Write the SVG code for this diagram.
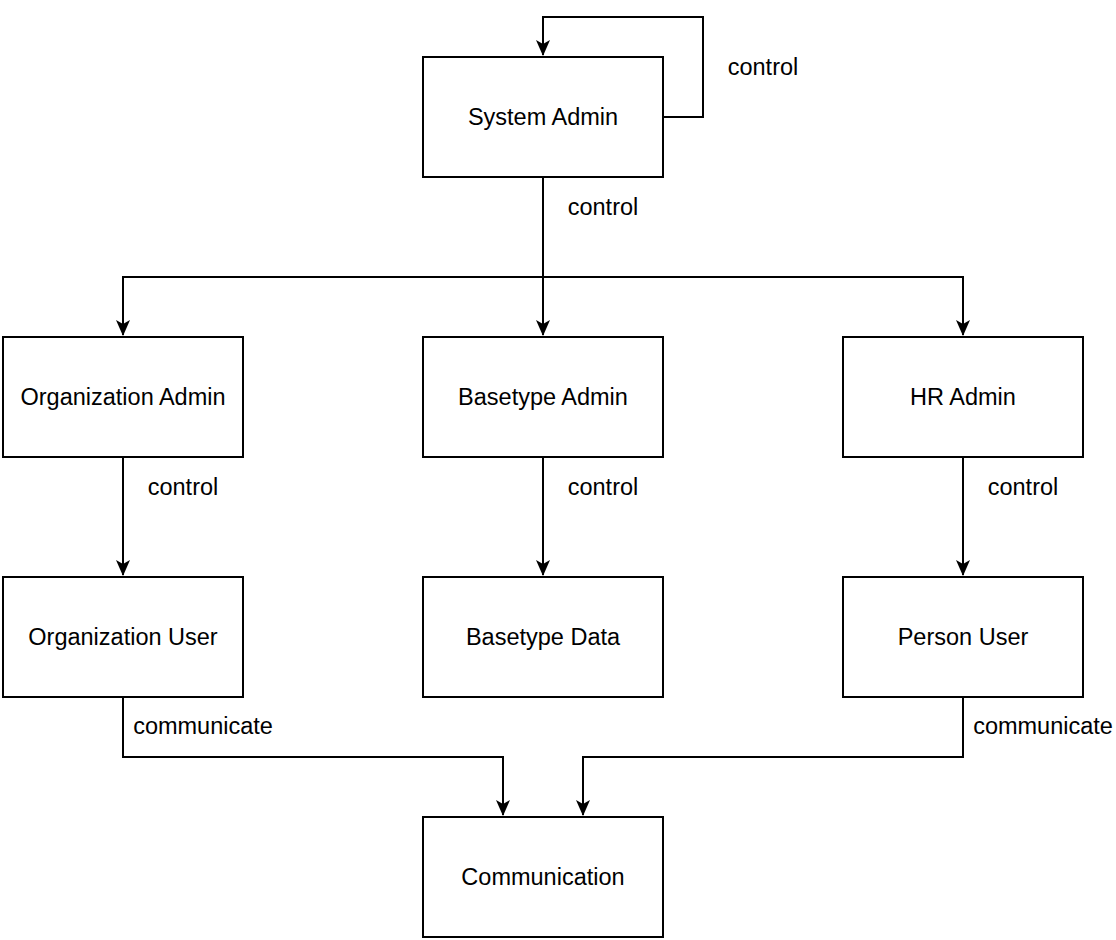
<svg xmlns="http://www.w3.org/2000/svg" width="1116" height="940" viewBox="0 0 1116 940">
<style>
.box{fill:#fff;stroke:#000;stroke-width:2}
.t{font-family:"Liberation Sans",Arial,sans-serif;font-size:23.5px;fill:#000;text-anchor:middle;dominant-baseline:central}
.c{fill:none;stroke:#000;stroke-width:2}
</style>
<defs>
<marker id="a" markerWidth="14" markerHeight="16" viewBox="0 0 14 16" refX="7" refY="16" orient="auto-start-reverse" markerUnits="userSpaceOnUse">
<path d="M0,0 L7,4 L14,0 L7,16 Z" fill="#000" transform="rotate(0)"/>
</marker>
</defs>
<rect width="1116" height="940" fill="#fff"/>
<g id="connectors">
<path class="c" d="M663,117 H703 V17 H543 V55"/>
<path class="c" d="M543,177 V277 H123 V335"/>
<path class="c" d="M543,277 V335"/>
<path class="c" d="M543,277 H963 V335"/>
<path class="c" d="M123,457 V575"/>
<path class="c" d="M543,457 V575"/>
<path class="c" d="M963,457 V575"/>
<path class="c" d="M123,697 V757 H503 V815"/>
<path class="c" d="M963,697 V757 H583 V815"/>
<g fill="#000">
<path d="M536,40 L543,44 L550,40 L543,56 Z"/>
<path d="M116,320 L123,324 L130,320 L123,336 Z"/>
<path d="M536,320 L543,324 L550,320 L543,336 Z"/>
<path d="M956,320 L963,324 L970,320 L963,336 Z"/>
<path d="M116,560 L123,564 L130,560 L123,576 Z"/>
<path d="M536,560 L543,564 L550,560 L543,576 Z"/>
<path d="M956,560 L963,564 L970,560 L963,576 Z"/>
<path d="M496,800 L503,804 L510,800 L503,816 Z"/>
<path d="M576,800 L583,804 L590,800 L583,816 Z"/>
</g>
<text class="t" x="763" y="67">control</text>
<text class="t" x="603" y="207">control</text>
<text class="t" x="183" y="487">control</text>
<text class="t" x="603" y="487">control</text>
<text class="t" x="1023" y="487">control</text>
<text class="t" x="203" y="726">communicate</text>
<text class="t" x="1043" y="726">communicate</text>
</g>
<g id="system-admin"><rect class="box" x="423" y="57" width="240" height="120"/><text class="t" x="543" y="117">System Admin</text></g>
<g id="organization-admin"><rect class="box" x="3" y="337" width="240" height="120"/><text class="t" x="123" y="397">Organization Admin</text></g>
<g id="basetype-admin"><rect class="box" x="423" y="337" width="240" height="120"/><text class="t" x="543" y="397">Basetype Admin</text></g>
<g id="hr-admin"><rect class="box" x="843" y="337" width="240" height="120"/><text class="t" x="963" y="397">HR Admin</text></g>
<g id="organization-user"><rect class="box" x="3" y="577" width="240" height="120"/><text class="t" x="123" y="637">Organization User</text></g>
<g id="basetype-data"><rect class="box" x="423" y="577" width="240" height="120"/><text class="t" x="543" y="637">Basetype Data</text></g>
<g id="person-user"><rect class="box" x="843" y="577" width="240" height="120"/><text class="t" x="963" y="637">Person User</text></g>
<g id="communication"><rect class="box" x="423" y="817" width="240" height="120"/><text class="t" x="543" y="877">Communication</text></g>
</svg>
